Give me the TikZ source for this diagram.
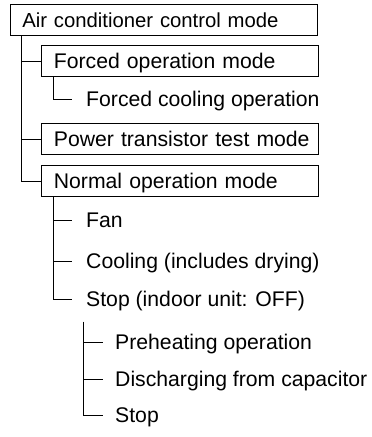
\documentclass[tikz,border=0pt]{standalone}
\usepackage{fontspec}
\setmainfont{Liberation Sans}
\begin{document}
\begin{tikzpicture}[x=1pt,y=-1pt,
  every node/.style={font=\fontsize{21.2}{23}\selectfont},
  modebox/.style={draw, line width=0.8pt, anchor=north west, minimum height=31pt, inner xsep=12.5pt, inner ysep=0pt, text height=15.2pt, text depth=0pt, align=left},
  leaf/.style={anchor=base west, inner sep=0pt},
  conn/.style={line width=0.8pt}]
\useasboundingbox (0,0) rectangle (372,437);
\node[modebox, text width=283pt, inner xsep=12pt, text height=14.5pt, font=\fontsize{20.3}{22}\selectfont] (root) at (10,4) {\mbox{Air conditioner control mode}};
\node[modebox, text width=252pt] (forced) at (41,45) {\mbox{Forced operation mode}};
\node[leaf] (fcool) at (86,106.5) {Forced cooling operation};
\node[modebox, text width=252pt] (ptest) at (41,123) {\mbox{Power transistor test mode}};
\node[modebox, text width=252pt] (normal) at (41,165) {\mbox{Normal operation mode}};
\node[leaf] (fan) at (86,227.5) {Fan};
\node[leaf] (cool) at (86,268.5) {Cooling (includes drying)};
\node[leaf] (stop) at (86,306.5) {Stop (indoor unit: OFF)};
\node[leaf] (preheat) at (115,349.5) {Preheating operation};
\node[leaf] (dis) at (115,386.5) {Discharging from capacitor};
\node[leaf] (stop2) at (115,422.5) {Stop};
% connector end points, level with each leaf's capitals
\coordinate (fcoolE) at ([xshift=-14pt,yshift=7.6pt]fcool.base west);
\coordinate (fanE) at ([xshift=-14pt,yshift=7.6pt]fan.base west);
\coordinate (coolE) at ([xshift=-14pt,yshift=7.6pt]cool.base west);
\coordinate (stopE) at ([xshift=-14pt,yshift=7.6pt]stop.base west);
\coordinate (preheatE) at ([xshift=-12pt,yshift=7.6pt]preheat.base west);
\coordinate (disE) at ([xshift=-12pt,yshift=7.6pt]dis.base west);
\coordinate (stop2E) at ([xshift=-12pt,yshift=7.6pt]stop2.base west);
% connectors
\coordinate (rootd) at ([xshift=11pt]root.south west);
\draw[conn] (rootd) |- (normal.west);
\draw[conn] (rootd |- forced.west) -- (forced.west);
\draw[conn] (rootd |- ptest.west) -- (ptest.west);
\coordinate (fd) at ([xshift=12pt]forced.south west);
\draw[conn] (fd) |- (fcoolE);
\coordinate (nd) at ([xshift=12pt]normal.south west);
\draw[conn] (nd) |- (stopE);
\draw[conn] (nd |- fanE) -- (fanE);
\draw[conn] (nd |- coolE) -- (coolE);
\coordinate (sd) at ([xshift=-3pt,yshift=-15pt]stop.base west);
\draw[conn] (sd) |- (stop2E);
\draw[conn] (sd |- preheatE) -- (preheatE);
\draw[conn] (sd |- disE) -- (disE);
\end{tikzpicture}
\end{document}
